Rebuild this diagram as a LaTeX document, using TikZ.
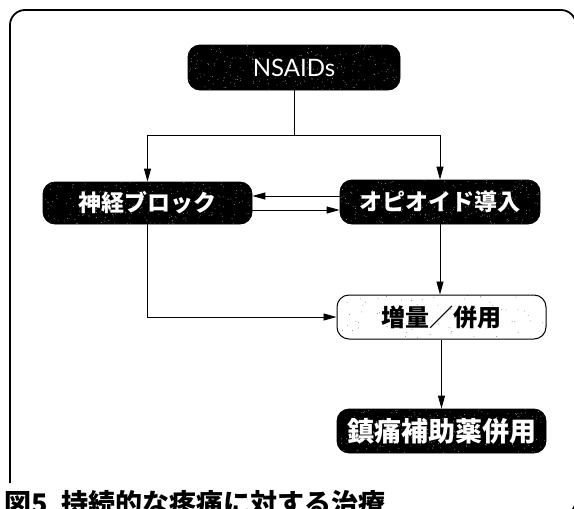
\documentclass[tikz,border=0pt]{standalone}
\usepackage{fontspec}
\newfontfamily\jpfont{Noto Sans CJK JP}
\newfontfamily\latinfont{Lato}
\usetikzlibrary{arrows.meta,calc}
\tikzset{
  speckle/.style n args={2}{path picture={
    \foreach \k in {1,...,#1}{
      \pgfmathsetmacro\px{rnd}\pgfmathsetmacro\py{rnd}
      \fill[#2] let \p1=(path picture bounding box.south west), \p2=(path picture bounding box.north east)
        in ({\x1+\px*(\x2-\x1)},{\y1+\py*(\y2-\y1)}) circle (0.5pt);
    }}},
  darkbox/.style={draw=black, fill=black, rounded corners=12pt, text=white,
    font=\jpfont\bfseries\fontsize{23}{23}\selectfont, inner sep=0pt,
    line width=0.8pt, speckle={220}{white!55!black}},
  lightbox/.style={draw=black, fill=white, rounded corners=12pt, text=black,
    font=\jpfont\bfseries\fontsize{24}{24}\selectfont, inner sep=0pt,
    line width=1pt, speckle={70}{white!55!black}},
  conn/.style={draw=black, line width=0.9pt},
  arr/.style={conn, -{Triangle[length=13pt,width=7pt]}},
  frame/.style={draw=black, line width=1.8pt, rounded corners=15pt},
}
\begin{document}
\begin{tikzpicture}[x=1pt,y=-1pt]
\useasboundingbox (0,0) rectangle (574,509);
\clip (0,0) rectangle (574,509);
\pgfmathsetseed{11}
\draw[frame] (10,483) -- (10,10) -- (576,10) -- (576,515) -- (540,515);

\node[darkbox, minimum width=212pt, minimum height=45pt, font=\latinfont\fontsize{24}{24}\selectfont] (nsaids) at (294,67.5) {NSAIDs};
\node[darkbox, minimum width=209pt, minimum height=42pt] (block) at (147.5,203) {神経ブロック};
\node[darkbox, minimum width=200pt, minimum height=44pt] (opioid) at (440,202) {オピオイド導入};
\node[lightbox, minimum width=209pt, minimum height=44pt] (zoryo) at (441.5,317) {増量／併用};
\node[darkbox, minimum width=209pt, minimum height=44pt, font=\jpfont\bfseries\fontsize{27}{27}\selectfont] (adjuv) at (441.5,431) {鎮痛補助薬併用};

\coordinate (split) at (294,135);
\draw[conn] (nsaids.south) -- (split);
\draw[arr] (split) -| (block.north);
\draw[arr] (split) -| (opioid.north);
\draw[arr] ([yshift=6pt]opioid.west) -- ([yshift=6pt]opioid.west -| block.east);
\draw[arr] ([yshift=-7pt]block.east) -- ([yshift=-7pt]block.east -| opioid.west);
\draw[arr] (block.south) |- (zoryo.west);
\draw[arr] (opioid.south) -- (opioid.south |- zoryo.north);
\draw[arr] (zoryo) -- (adjuv);

\node[anchor=base west, inner sep=0pt, font=\jpfont\bfseries\fontsize{27}{27}\selectfont] (cap) at (4,513) {図5\hspace{0.5em}持続的な疼痛に対する治療};
\end{tikzpicture}
\end{document}
